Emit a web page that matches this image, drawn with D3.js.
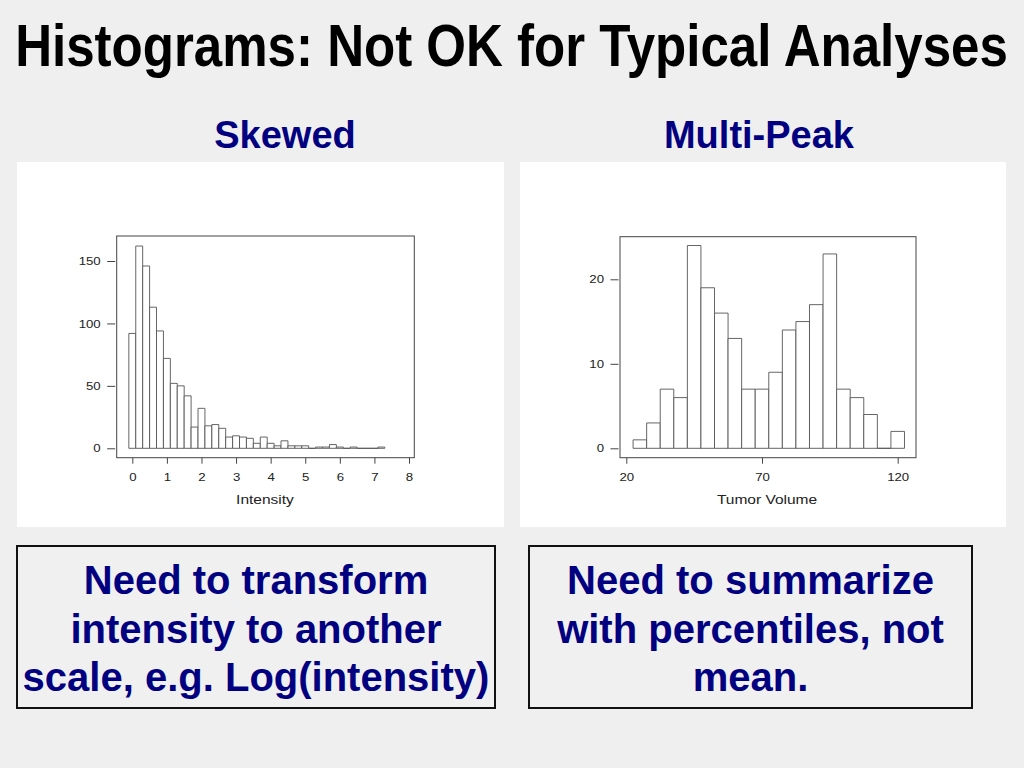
<!DOCTYPE html>
<html>
<head>
<meta charset="utf-8">
<script src="https://cdn.jsdelivr.net/npm/d3@7"></script>
<style>
  body { margin: 0; background: #efefef; }
  svg { display: block; font-family: "Liberation Sans", Arial, Helvetica, sans-serif; }
</style>
</head>
<body>
<div id="chart"></div>
<script>
// skewed panel: intensity histogram
const intensityBreaks = [-0.1, 0.1, 0.3, 0.5, 0.7, 0.9, 1.1, 1.3, 1.5, 1.7, 1.9, 2.1, 2.3, 2.5, 2.7, 2.9,
  3.1, 3.3, 3.5, 3.7, 3.9, 4.1, 4.3, 4.5, 4.7, 4.9, 5.1, 5.3, 5.5, 5.7, 5.9, 6.1, 6.3, 6.5, 6.7, 6.9, 7.1, 7.3]
const intensityCounts = [92, 162, 146, 113, 94, 72, 52, 50, 42, 17, 32, 18, 19, 16, 9, 10, 9, 8, 4, 9,
  4, 2, 6, 2, 2, 2, 0, 1, 1, 3, 1, 0, 1, 0, 0, 0, 1]
const intensityXTicks = [0, 1, 2, 3, 4, 5, 6, 7, 8]
const intensityYTicks = [0, 50, 100, 150]

// multi-peak panel: tumor volume histogram
const tumorBreaks = [22.5, 27.5, 32.5, 37.5, 42.5, 47.5, 52.5, 57.5, 62.5, 67.5, 72.5,
  77.5, 82.5, 87.5, 92.5, 97.5, 102.5, 107.5, 112.5, 117.5, 122.5]
const tumorCounts = [1, 3, 7, 6, 24, 19, 16, 13, 7, 7, 9, 14, 15, 17, 23, 7, 6, 4, 0, 2]
const tumorXTicks = [20, 70, 120]
const tumorYTicks = [0, 10, 20]

const W = 1024
const H = 768
const navy = '#000080'
const stretch = 1.15 // the plot images in the slide are a little wide

const svg = d3.select('#chart').append('svg')
  .attr('width', W)
  .attr('height', H)

svg.append('rect')
  .attr('width', W)
  .attr('height', H)
  .attr('fill', '#efefef')

// title is set in a narrow bold face: squeeze regular bold to the same width
const title = svg.append('text')
  .attr('text-anchor', 'middle')
  .style('font-size', '60px')
  .style('font-weight', 'bold')
  .attr('fill', '#000')
  .text('Histograms: Not OK for Typical Analyses')
const titleW = title.node().getComputedTextLength()
title.attr('transform', `translate(511.5,66) scale(${993 / titleW},1)`)

const panels = [
  {
    title: 'Skewed', titleX: 285, card: [17, 162, 504, 527],
    box: [116.7, 236, 414.3, 457.7],
    x: d3.scaleLinear().domain([0, 8]).range([132.3, 409]),
    y: d3.scaleLinear().domain([0, 150]).range([448.3, 261]),
    breaks: intensityBreaks, counts: intensityCounts,
    xTicks: intensityXTicks, yTicks: intensityYTicks,
    xLabel: 'Intensity', xLabelX: 265
  },
  {
    title: 'Multi-Peak', titleX: 759, card: [520, 162, 1006, 527],
    box: [620, 236.7, 916, 457.7],
    x: d3.scaleLinear().domain([20, 120]).range([626.3, 897.7]),
    y: d3.scaleLinear().domain([0, 20]).range([448.3, 279.3]),
    breaks: tumorBreaks, counts: tumorCounts,
    xTicks: tumorXTicks, yTicks: tumorYTicks,
    xLabel: 'Tumor Volume', xLabelX: 767
  }
]

panels.forEach(p => {
  svg.append('text')
    .attr('x', p.titleX)
    .attr('y', 148)
    .attr('text-anchor', 'middle')
    .style('font-size', '38px')
    .style('font-weight', 'bold')
    .attr('fill', navy)
    .text(p.title)

  const [cx0, cy0, cx1, cy1] = p.card
  svg.append('rect')
    .attr('x', cx0).attr('y', cy0)
    .attr('width', cx1 - cx0).attr('height', cy1 - cy0)
    .attr('fill', '#fff')

  const [bx0, by0, bx1, by1] = p.box
  const g = svg.append('g')

  // bars drawn as paths so empty bins still leave a line on the baseline
  g.selectAll('path.bar')
    .data(p.counts)
    .join('path')
    .attr('class', 'bar')
    .attr('d', (d, i) => {
      const x0 = p.x(p.breaks[i])
      const x1 = p.x(p.breaks[i + 1])
      const y0 = p.y(0)
      const y1 = p.y(d)
      return `M${x0},${y0}V${y1}H${x1}V${y0}Z`
    })
    .attr('fill', '#fff')
    .attr('stroke', '#555')
    .attr('stroke-width', 0.9)

  g.append('rect')
    .attr('x', bx0).attr('y', by0)
    .attr('width', bx1 - bx0).attr('height', by1 - by0)
    .attr('fill', 'none')
    .attr('stroke', '#444')
    .attr('stroke-width', 1)

  const xAxis = g.append('g')
    .attr('transform', `translate(0,${by1})`)
    .call(d3.axisBottom(p.x).tickValues(p.xTicks).tickSize(6).tickSizeOuter(0).tickPadding(9))
  xAxis.select('.domain').remove()
  xAxis.selectAll('.tick text')
    .attr('transform', `scale(${stretch},1)`)

  const yAxis = g.append('g')
    .attr('transform', `translate(${bx0 - 1.5},0)`)
    .call(d3.axisLeft(p.y).tickValues(p.yTicks).tickSize(8).tickSizeOuter(0).tickPadding(7))
  yAxis.select('.domain').remove()
  yAxis.selectAll('.tick text')
    .attr('x', -14.5 / stretch)
    .attr('transform', `scale(${stretch},1)`)

  g.selectAll('.tick line').attr('stroke', '#444')
  g.selectAll('.tick text')
    .attr('fill', '#222')
    .style('font-size', '11.5px')
    .style('font-family', '"Liberation Sans", Arial, sans-serif')

  g.append('text')
    .attr('text-anchor', 'middle')
    .attr('transform', `translate(${p.xLabelX},504) scale(${stretch},1)`)
    .style('font-size', '13.5px')
    .attr('fill', '#222')
    .text(p.xLabel)
})

// note boxes under the charts
const notes = [
  { box: [17, 546, 495, 708], lines: ['Need to transform', 'intensity to another', 'scale, e.g. Log(intensity)'] },
  { box: [529, 546, 972, 708], lines: ['Need to summarize', 'with percentiles, not', 'mean.'] }
]

notes.forEach(n => {
  const [x0, y0, x1, y1] = n.box
  svg.append('rect')
    .attr('x', x0).attr('y', y0)
    .attr('width', x1 - x0).attr('height', y1 - y0)
    .attr('fill', '#f0f0f0')
    .attr('stroke', '#111')
    .attr('stroke-width', 2)

  svg.append('g')
    .selectAll('text')
    .data(n.lines)
    .join('text')
    .attr('x', (x0 + x1) / 2)
    .attr('y', (d, i) => 594 + i * 48.5)
    .attr('text-anchor', 'middle')
    .style('font-size', '40px')
    .style('font-weight', 'bold')
    .attr('fill', navy)
    .text(d => d)
})
</script>
</body>
</html>
